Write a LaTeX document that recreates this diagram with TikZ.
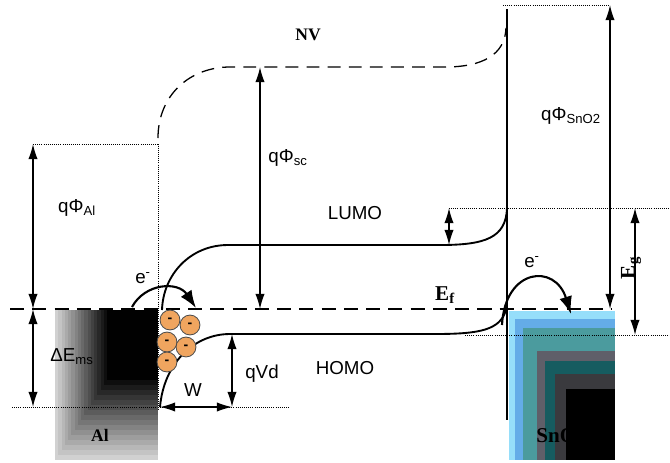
\documentclass[tikz,border=0pt]{standalone}
\usepackage{fontspec}
\setmainfont{Liberation Serif}
\setsansfont{Liberation Sans}
\usetikzlibrary{arrows.meta}

\definecolor{chargefill}{RGB}{240,165,95}
\definecolor{snA}{RGB}{150,222,250}
\definecolor{snB}{RGB}{100,172,232}
\definecolor{snC}{RGB}{75,155,158}
\definecolor{snD}{RGB}{95,95,105}
\definecolor{snE}{RGB}{22,92,96}
\definecolor{snF}{RGB}{58,58,62}

\begin{document}
\begin{tikzpicture}[x=0.03cm, y=-0.03cm,
    band/.style={line width=1.6pt},
    vacuum/.style={line width=1.1pt, dash pattern=on 11pt off 7pt},
    fermi/.style={line width=1.1pt, dash pattern=on 12pt off 7pt},
    guide/.style={line width=0.8pt, densely dotted},
    dim/.style={line width=1.1pt, {Latex[length=13pt,width=8pt]}-{Latex[length=13pt,width=8pt]}},
    hop/.style={line width=1.8pt, -{Latex[length=15pt,width=11pt]}},
    lab/.style={font=\sffamily\fontsize{16}{16}\selectfont, inner sep=1pt},
    tag/.style={font=\bfseries\fontsize{15}{15}\selectfont, inner sep=1pt},
    level/.style={font=\bfseries\fontsize{18}{18}\selectfont, inner sep=1pt},
    charge/.style={circle, draw=black!70, fill=chargefill, line width=0.7pt, minimum size=17pt, inner sep=0pt, font=\sffamily\bfseries\large},
]
    \useasboundingbox (0,0) rectangle (670,462);

    % metal block (Al), dark towards the top right
    \foreach \i in {0,...,16} {
        \pgfmathsetmacro\shade{min(18+\i*5.1,100)}
        \fill[black!\shade] (55+\i*3.25,310) rectangle (158,460-\i*5);
    }

    % oxide block (SnO2), dark towards the bottom right
    \foreach \dx/\dy/\col in {0/0/snA, 6/8/snB, 14/17/snC, 28/40/snD, 36/50/snE, 46/63/snF, 57/78/black}
        \fill[\col] (509+\dx,311+\dy) rectangle (615,460);

    % reference points
    \coordinate (alTop) at (33,144);
    \coordinate (alEf) at (33,309);
    \coordinate (alBot) at (33,407);
    \coordinate (scVac) at (260,67);
    \coordinate (scEf) at (260,309);
    \coordinate (snTop) at (610,5);
    \coordinate (snEf) at (610,309);
    \coordinate (gapTop) at (635,208);
    \coordinate (gapBot) at (635,335);
    \coordinate (bendTop) at (449,208);
    \coordinate (bendBot) at (449,245);
    \coordinate (vdTop) at (232,334);
    \coordinate (vdBot) at (232,407);
    \coordinate (wLeft) at (160,407);

    % guide lines
    \draw[guide] (alTop) -- (158,144) -- (158,410);
    \draw[guide] (12,407) -- (290,407);
    \draw[guide] (503,5) -- (snTop);
    \draw[guide] (bendTop) -- (670,208);
    \draw[guide] (465,335) -- (670,335);
    \draw[fermi] (10,309) -- (612,309);

    % interface
    \draw[line width=0.9pt] (507,9) -- (507,420);

    % vacuum level
    \draw[vacuum] (158,138) .. controls (158,95) and (190,67) .. (230,67) -- (445,67)
        .. controls (482,67) and (505,55) .. (506,28);

    % LUMO and HOMO
    \draw[band] (162,310) .. controls (163,275) and (190,245) .. (228,245) -- (440,245)
        .. controls (485,245) and (506,238) .. (507,208);
    \draw[band] (160,407) .. controls (164,362) and (195,334) .. (230,334) -- (435,334)
        .. controls (480,334) and (500,330) .. (506,310);

    % dimension arrows
    \draw[dim] (alTop) -- (alEf);
    \draw[dim] (alEf) -- (alBot);
    \draw[dim] (scVac) -- (scEf);
    \draw[dim] (snTop) -- (snEf);
    \draw[dim] (gapTop) -- (gapBot);
    \draw[dim] (bendTop) -- (bendBot);
    \draw[dim] (vdTop) -- (vdBot);
    \draw[dim] (wLeft) -- (vdBot);

    % electron transfer
    \draw[hop] (132,307) .. controls (145,283) and (178,281) .. (196,308);
    \draw[hop] (502,325) .. controls (505,268) and (555,263) .. (571,314);

    % space charge
    \foreach \cx/\cy [count=\k] in {170/320, 190/325, 167/342, 186/347, 167/362}
        \node[charge] (q\k) at (\cx,\cy) {-};

    % labels
    \node[tag] (nv) at (308,35) {NV};
    \node[lab] (phiAl) at (77,208) {qΦ\textsubscript{Al}};
    \node[lab] (phiSc) at (288,158) {qΦ\textsubscript{sc}};
    \node[lab] (phiSn) at (571,116) {qΦ\textsubscript{SnO2}};
    \node[lab] (dEms) at (72,357) {ΔE\textsubscript{ms}};
    \node[lab] (lumo) at (355,213) {LUMO};
    \node[lab] (homo) at (345,368) {HOMO};
    \node[lab] (qvd) at (262,374) {qVd};
    \node[lab] (w) at (193,390) {W};
    \node[lab] (eL) at (143,278) {e\textsuperscript{-}};
    \node[lab] (eR) at (532,262) {e\textsuperscript{-}};
    \node[level] (ef) at (445,295) {E\textsubscript{f}};
    \node[level, rotate=90] (eg) at (631,268) {E\textsubscript{g}};
    \node[tag] (al) at (100,435) {Al};
    \node[level, anchor=west] (sn) at (535,437) {SnO\textsubscript{2}};
\end{tikzpicture}
\end{document}
